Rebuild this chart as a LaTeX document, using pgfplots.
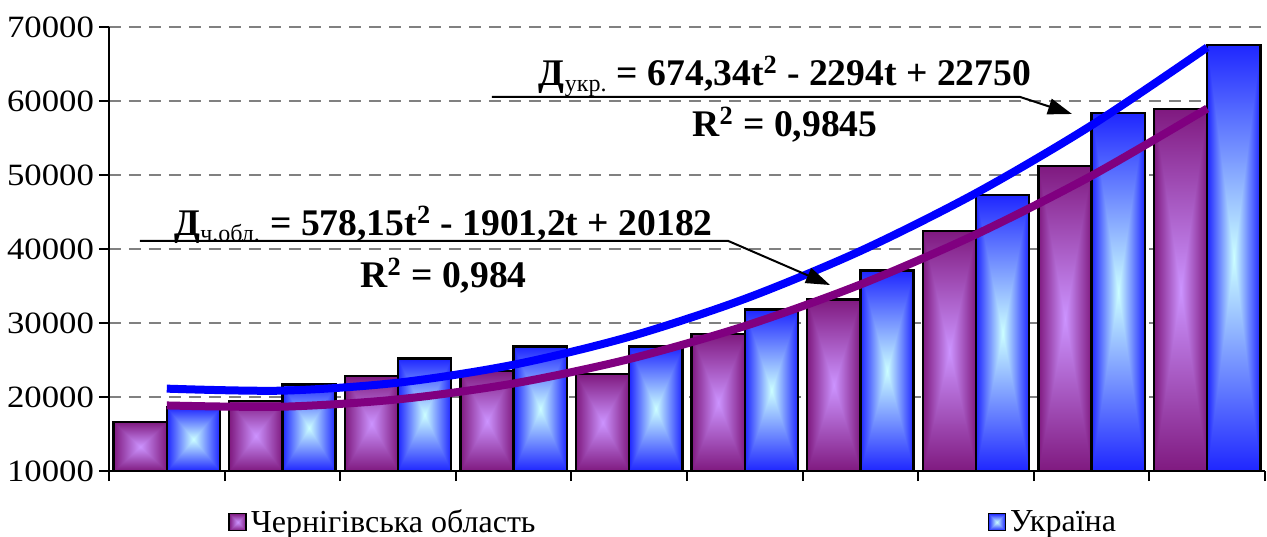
\documentclass[border=0pt]{standalone}
\usepackage{fontspec}
\setmainfont{Liberation Serif}
\newfontfamily\tickfont[FakeStretch=1.12]{Liberation Serif}
\usepackage{pgfplots}
\usepackage{pgfplotstable}
\pgfplotsset{compat=1.18}
\usetikzlibrary{arrows.meta}

% box gradient: light in the middle, dark towards every edge
% (the path box is mapped onto the inner 50bp square of the shading)
\pgfdeclarefunctionalshading{purplebox}{\pgfpoint{-50bp}{-50bp}}{\pgfpoint{50bp}{50bp}}{}{
  abs exch abs 2 copy lt {exch} if pop 25 div
  dup 1 gt {pop 1} if
  dup -0.30 mul 0.80 add exch
  dup -0.48 mul 0.58 add exch
  -0.50 mul 1.0 add
}
\pgfdeclarefunctionalshading{bluebox}{\pgfpoint{-50bp}{-50bp}}{\pgfpoint{50bp}{50bp}}{}{
  abs exch abs 2 copy lt {exch} if pop 25 div
  dup 1 gt {pop 1} if
  dup -0.68 mul 0.80 add exch
  -0.85 mul 1.0 add
  1.0
}

\definecolor{trendpurple}{RGB}{128,0,128}
\definecolor{trendblue}{RGB}{0,0,255}

\tikzset{
  purplebar/.style={draw=black, line width=1.2pt, shading=purplebox},
  bluebar/.style={draw=black, line width=1.2pt, shading=bluebox},
}

\pgfplotstableread{
t cher ukr
1 16600 18600
2 19500 21700
3 22800 25200
4 23500 26800
5 23100 26800
6 28500 31800
7 33200 37100
8 42400 47300
9 51200 58400
10 58900 67600
}\datatable

% trend values from the fitted equations at t = 1..10
\pgfplotstableread{
t cher ukr
1 18859 21130
2 18692 20859
3 19682 21937
4 21828 24363
5 25130 28139
6 29588 33262
7 35203 39735
8 41974 47556
9 49901 56726
10 58985 67244
}\trendtable

\begin{document}
\begin{tikzpicture}
\path[use as bounding box] (-54.5pt,-32.5pt) rectangle (579pt,235.5pt);
\begin{axis}[
    at={(0,0)}, anchor=south west,
    scale only axis,
    width=578pt, height=222pt,
    xmin=0.5, xmax=10.5,
    ymin=10000, ymax=70000,
    axis x line*=bottom, axis y line*=left,
    axis line style={line width=1pt},
    xtick={0.5,1.5,...,10.5}, xticklabels={},
    ytick={10000,20000,...,70000},
    scaled y ticks=false,
    /pgf/number format/1000 sep={},
    /pgf/number format/assume math mode=true,
    tick align=outside,
    major tick length=5pt,
    tick style={black, line width=1pt},
    yticklabel style={font=\tickfont\fontsize{15.5}{17}\selectfont, xshift=1pt},
    ymajorgrids,
    major grid style={gray, line width=1pt, dash pattern=on 6pt off 4pt},
    clip=false,
    legend columns=2,
    legend style={at={(0.103,-0.115)}, anchor=west, draw=none, fill=none,
        inner sep=0pt, font=\fontsize{16}{18}\selectfont,
        /tikz/every even column/.append style={column sep=224pt}},
]
% one plot per bar, so that every bar gets its own gradient
\pgfplotsinvokeforeach{1,...,10}{
  \addplot[ybar, bar width=0.46, bar shift=-0.23, purplebar, forget plot,
      restrict x to domain=#1:#1]
      table[x=t, y=cher] {\datatable};
  \addplot[ybar, bar width=0.46, bar shift=0.23, bluebar, forget plot,
      restrict x to domain=#1:#1]
      table[x=t, y=ukr] {\datatable};
}
\addlegendimage{legend image code/.code={\draw[purplebar, line width=0.8pt] (0pt,-4.25pt) rectangle (8.5pt,4.25pt);}}
\addlegendentry{Чернігівська область}
\addlegendimage{legend image code/.code={\draw[bluebar, line width=0.8pt] (0pt,-4.25pt) rectangle (8.5pt,4.25pt);}}
\addlegendentry{Україна}

\addplot[smooth, trendpurple, line width=4pt, forget plot] table[x=t, y=cher] {\trendtable};
\addplot[smooth, trendblue, line width=4pt, forget plot] table[x=t, y=ukr] {\trendtable};

% equations of the trend lines
\node[anchor=base, font=\bfseries\fontsize{18.8}{20}\selectfont] at (axis cs:6.348,62029)
    {Д\textsubscript{\mdseries\fontsize{12}{12}\selectfont укр.} = 674,34t\textsuperscript{2} - 2294t + 22750};
\node[anchor=base, font=\bfseries\fontsize{18.8}{20}\selectfont] at (axis cs:6.348,55137)
    {R\textsuperscript{2} = 0,9845};
\draw[line width=1pt, -{Triangle[length=12pt,width=8pt]}]
    (axis cs:3.813,60550) -- (axis cs:8.381,60550) -- (axis cs:8.830,58245);

\node[anchor=base, font=\bfseries\fontsize{18.8}{20}\selectfont] at (axis cs:3.394,41758)
    {Д\textsubscript{\mdseries\fontsize{12}{12}\selectfont ч.обл.} = 578,15t\textsuperscript{2} - 1901,2t + 20182};
\node[anchor=base, font=\bfseries\fontsize{18.8}{20}\selectfont] at (axis cs:3.394,34731)
    {R\textsuperscript{2} = 0,984};
\draw[line width=1pt, -{Triangle[length=12pt,width=8pt]}]
    (axis cs:0.768,41100) -- (axis cs:5.855,41100) -- (axis cs:6.737,35136);
\end{axis}
\end{tikzpicture}
\end{document}
